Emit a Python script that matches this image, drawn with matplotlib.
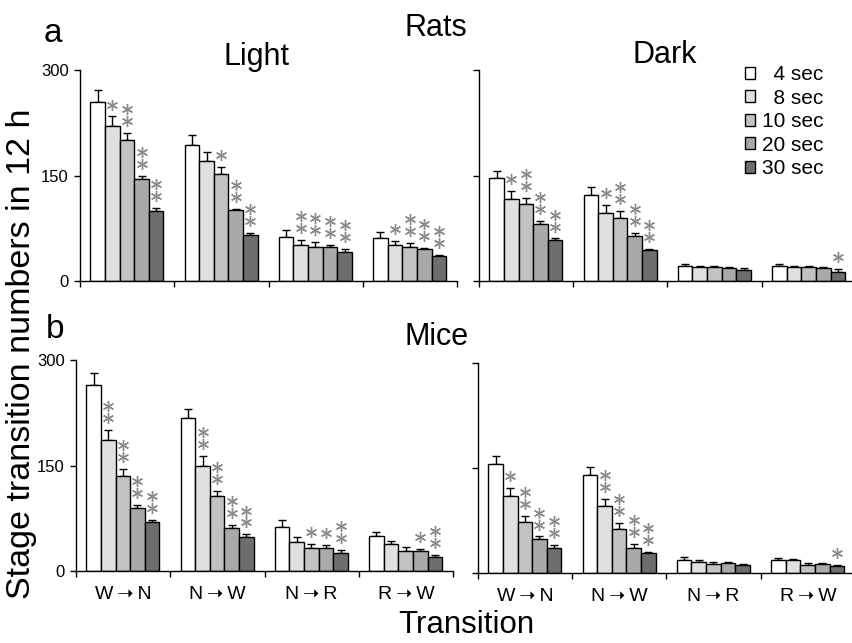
import numpy as np
import matplotlib
matplotlib.use('Agg')
from matplotlib import pyplot as plt

plt.rcParams['font.family'] = ['Liberation Sans', 'DejaVu Sans']

# grupos do eixo x e duracoes de cada barra
transicoes = ['W\u2009➝\u2009N', 'N\u2009➝\u2009W', 'N\u2009➝\u2009R', 'R\u2009➝\u2009W']
duracoes = ['  4 sec', '  8 sec', '10 sec', '20 sec', '30 sec']

# ratos, fase clara (linhas = transicao, colunas = duracao)
ratos_claro = [[254, 220, 200, 145, 99], [193, 170, 152, 101, 65],
               [63, 51, 49, 48, 41], [61, 51, 49, 45, 35]]
ratos_claro_erro = [[17, 14, 11, 4, 4.5], [14, 14, 10, 2, 3.5],
                    [10, 8, 7, 3, 5], [8, 6, 5, 1.5, 2.5]]
ratos_claro_ast = [[0, 1, 2, 2, 2], [0, 0, 1, 2, 2], [0, 2, 2, 2, 2], [0, 1, 2, 2, 2]]

# ratos, fase escura
ratos_escuro = [[146, 116, 109, 81, 59], [123, 97, 90, 64, 44],
                [21, 20, 19.5, 18, 16], [21, 20, 19.5, 18, 13]]
ratos_escuro_erro = [[11, 11.5, 9.5, 4, 1.5], [10, 11.5, 9.5, 4, 1.5],
                     [3, 2, 2, 2, 2], [3, 2, 2, 2, 4]]
ratos_escuro_ast = [[0, 1, 2, 2, 2], [0, 1, 2, 2, 2], [0, 0, 0, 0, 0], [0, 0, 0, 0, 1]]

# camundongos, fase clara
camund_claro = [[265, 187, 135, 90, 69], [217, 150, 106, 61, 48],
                [63, 41, 33, 33, 26], [50, 38, 29, 29, 20]]
camund_claro_erro = [[16, 14, 10, 4.5, 4], [14, 14, 8, 4.5, 4],
                     [10, 7, 6, 3.5, 4], [6, 5, 5, 2, 3]]
camund_claro_ast = [[0, 2, 2, 2, 2], [0, 2, 2, 2, 2], [0, 0, 1, 1, 2], [0, 0, 0, 1, 2]]

# camundongos, fase escura
camund_escuro = [[156, 110, 72, 48, 36], [140, 96, 62.5, 36, 28],
                 [19, 16, 13, 14, 11], [19, 18.5, 12, 13, 9.5]]
camund_escuro_erro = [[11.5, 11, 9, 4, 4], [11, 10, 8.5, 5, 2.5],
                      [3, 2, 2, 2, 2], [2, 1.5, 2, 1.5, 1.5]]
camund_escuro_ast = [[0, 1, 2, 2, 2], [0, 2, 2, 2, 2], [0, 0, 0, 0, 0], [0, 0, 0, 0, 1]]

cores = ['#ffffff', '#e0e0e0', '#c2c2c2', '#a9a9a9', '#6e6e6e']
largura = 0.155
inicio = 0.11


def painel(ax, valores, erros, asteriscos, rotulos_y, rotulos_x):
    """Desenha um painel de barras agrupadas com erro e asteriscos"""
    valores = np.asarray(valores, dtype=float)
    erros = np.asarray(erros, dtype=float)
    grupos = np.arange(len(transicoes))
    barras = []
    for d in range(len(duracoes)):
        x = grupos + inicio + largura * (d + 0.5)
        b = ax.bar(x, valores[:, d], largura, color=cores[d], edgecolor='black',
                   linewidth=1.0, label=duracoes[d], zorder=2)
        barras.append(b)
        ax.errorbar(x, valores[:, d], yerr=[np.zeros(len(x)), erros[:, d]], fmt='none',
                    ecolor='black', elinewidth=1, capsize=3, capthick=1, zorder=1)
        for g in grupos:
            topo = valores[g, d] + erros[g, d]
            for k in range(asteriscos[g][d]):
                ax.plot(x[g], topo + 17 + 17 * k, marker=(6, 2, 0), markersize=8,
                        color='#8c8c8c', mew=1.0, clip_on=False, zorder=3)

    ax.set_xlim(0, 4)
    ax.set_ylim(0, 300)
    ax.spines['top'].set_visible(False)
    ax.spines['right'].set_visible(False)
    ax.spines['left'].set_linewidth(1.0)
    ax.spines['bottom'].set_linewidth(1.0)
    ax.set_yticks([0, 150, 300])
    if rotulos_y:
        ax.set_yticklabels(['0', '150', '300'], fontsize=12)
    else:
        ax.set_yticklabels([])
    ax.tick_params(axis='y', length=4, width=1, pad=4)
    ax.set_xticks(grupos + 0.5)
    if rotulos_x:
        ax.set_xticklabels(transicoes, fontsize=14)
    else:
        ax.set_xticklabels([])
    ax.tick_params(axis='x', which='major', length=0, pad=11)
    ax.set_xticks(np.arange(5), minor=True)
    ax.tick_params(axis='x', which='minor', length=4, width=1)
    return barras


fig = plt.figure(figsize=(8.52, 6.43), dpi=100)

ax1 = fig.add_axes([0.0939, 0.563, 0.4425, 0.328])
ax2 = fig.add_axes([0.5622, 0.563, 0.4425, 0.328])
ax3 = fig.add_axes([0.0892, 0.112, 0.4425, 0.328])
ax4 = fig.add_axes([0.561, 0.109, 0.4425, 0.327])

painel(ax1, ratos_claro, ratos_claro_erro, ratos_claro_ast, True, False)
barras = painel(ax2, ratos_escuro, ratos_escuro_erro, ratos_escuro_ast, False, False)
painel(ax3, camund_claro, camund_claro_erro, camund_claro_ast, True, True)
painel(ax4, camund_escuro, camund_escuro_erro, camund_escuro_ast, False, True)

fig.legend(handles=barras, loc='upper left', bbox_to_anchor=(745 / 852, 1 - 65 / 643),
           frameon=False, fontsize=15, handlelength=0.5, handleheight=0.5,
           handletextpad=0.3, labelspacing=0.22, borderpad=0, borderaxespad=0)

# textos do cabecalho
def h(y):
    return 1 - y / 643

fig.text(53 / 852, h(42), 'a', fontsize=24, ha='center', va='baseline')
fig.text(436 / 852, h(36), 'Rats', fontsize=22, ha='center', va='baseline')
fig.text(256 / 852, h(65), 'Light', fontsize=22, ha='center', va='baseline')
fig.text(665 / 852, h(63), 'Dark', fontsize=22, ha='center', va='baseline')
fig.text(55 / 852, h(338), 'b', fontsize=24, ha='center', va='baseline')
fig.text(437 / 852, h(345), 'Mice', fontsize=22, ha='center', va='baseline')

fig.text(22 / 852, h(354), 'Stage transition numbers in 12 h', fontsize=24.5,
         rotation=90, ha='center', va='center')
fig.text(466 / 852, h(625), 'Transition', fontsize=22.5, ha='center', va='center')

plt.savefig('out.png', dpi=100)
